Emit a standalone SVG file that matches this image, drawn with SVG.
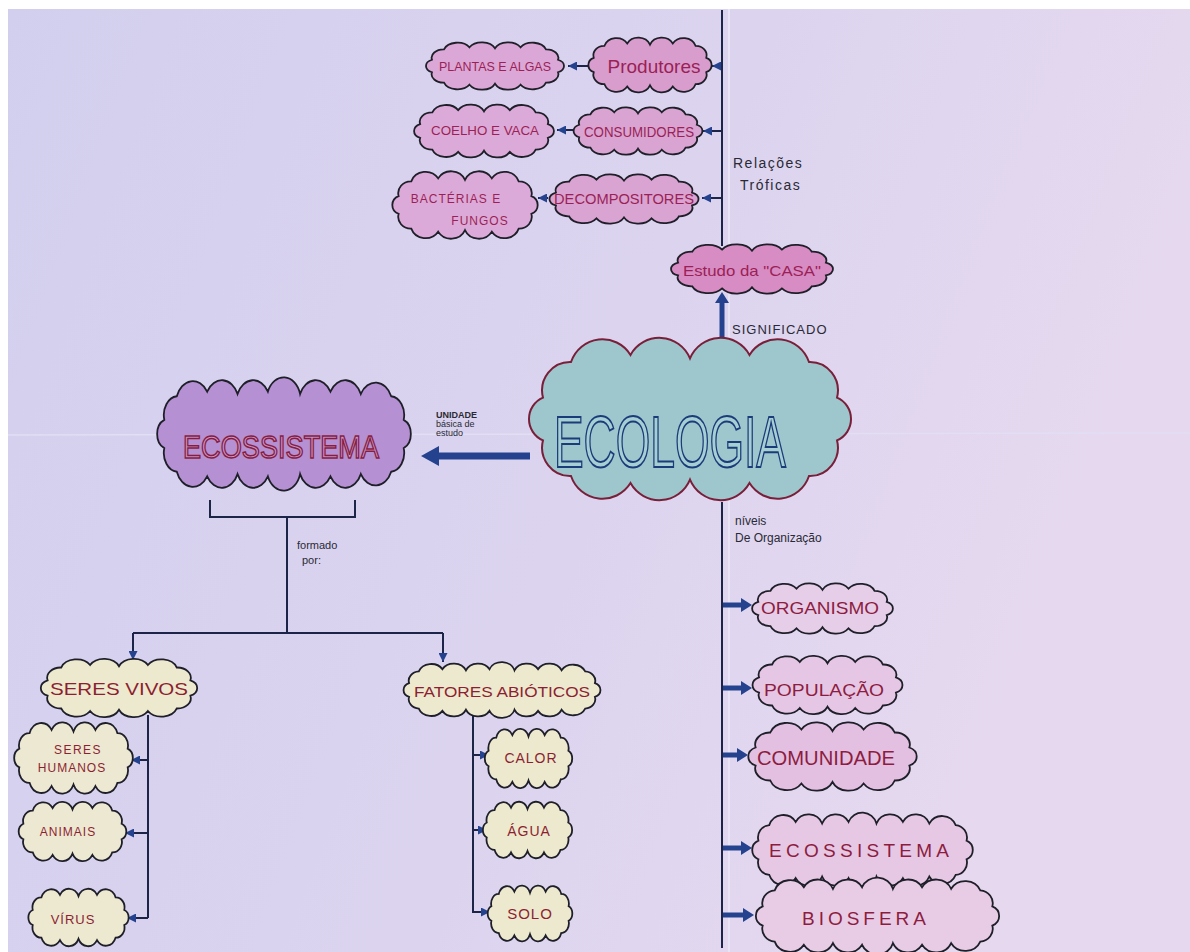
<svg xmlns="http://www.w3.org/2000/svg" xmlns:xlink="http://www.w3.org/1999/xlink" width="1190" height="952" viewBox="0 0 1190 952">
<style>
text{font-family:"Liberation Sans","DejaVu Sans",sans-serif;}
.cl{stroke:#1f1f2a;stroke-width:1.8;}
.clr{stroke:#7a1f3a;stroke-width:2;}
.tp{fill:#9c1f57;}
.tc{fill:#8c1f30;}
.tl{fill:#8d1c40;}
.lab{fill:#2a2a35;}
.ln{fill:none;stroke:#1c2448;stroke-width:2;}
.bl{fill:none;stroke:#24428e;}
</style>
<defs>
<linearGradient id="paper" x1="0" y1="0" x2="1" y2="0.3">
<stop offset="0" stop-color="#d2cfee"/>
<stop offset="0.6" stop-color="#dcd4ef"/>
<stop offset="1" stop-color="#e6d9ef"/>
</linearGradient>
<symbol id="cA" viewBox="0 0 200 100" preserveAspectRatio="none" overflow="visible">
<path vector-effect="non-scaling-stroke" d="M 16 38 A 16 16 0 0 1 32 18 A 19 19 0 0 1 66 14 A 19 19 0 0 1 100 16 A 19 19 0 0 1 134 14 A 19 19 0 0 1 168 18 A 16 16 0 0 1 184 38 A 13 13 0 0 1 184 62 A 16 16 0 0 1 168 82 A 19 19 0 0 1 134 86 A 19 19 0 0 1 100 84 A 19 19 0 0 1 66 86 A 19 19 0 0 1 32 82 A 16 16 0 0 1 16 62 A 13 13 0 0 1 16 38 Z"/>
</symbol>
<symbol id="cB" viewBox="0 0 300 100" preserveAspectRatio="none" overflow="visible">
<path vector-effect="non-scaling-stroke" d="M 16 38 A 16 16 0 0 1 30 18 A 19 19 0 0 1 64 14 A 19 19 0 0 1 98 16 A 19 19 0 0 1 132 14 A 19 19 0 0 1 168 16 A 19 19 0 0 1 202 14 A 19 19 0 0 1 236 16 A 19 19 0 0 1 270 18 A 16 16 0 0 1 284 38 A 13 13 0 0 1 284 62 A 16 16 0 0 1 270 82 A 19 19 0 0 1 236 84 A 19 19 0 0 1 202 86 A 19 19 0 0 1 168 84 A 19 19 0 0 1 132 86 A 19 19 0 0 1 98 84 A 19 19 0 0 1 64 86 A 19 19 0 0 1 30 82 A 16 16 0 0 1 16 62 A 13 13 0 0 1 16 38 Z"/>
</symbol>
<marker id="mS" markerUnits="userSpaceOnUse" markerWidth="9" markerHeight="9" refX="9" refY="4.5" orient="auto"><path d="M0,0 L9,4.5 L0,9 z" fill="#24428e"/></marker>
<marker id="mM" markerUnits="userSpaceOnUse" markerWidth="12" markerHeight="14" refX="1" refY="7" orient="auto"><path d="M0,0 L11,7 L0,14 z" fill="#24428e"/></marker>
<marker id="mL" markerUnits="userSpaceOnUse" markerWidth="19" markerHeight="20" refX="1" refY="10" orient="auto"><path d="M0,0 L18,10 L0,20 z" fill="#24428e"/></marker>
</defs>

<rect x="0" y="0" width="1190" height="952" fill="#ffffff"/>
<rect x="8" y="9" width="1182" height="943" fill="url(#paper)"/>
<line x1="729" y1="9" x2="729" y2="952" stroke="#e8e4f6" stroke-width="2"/>
<line x1="8" y1="435" x2="1190" y2="433" stroke="#e2def4" stroke-width="1.5"/>

<g id="connectors">
<path class="ln" d="M722 10 V246"/>
<path class="ln" d="M722 502 V948"/>
<path class="ln" d="M722 66 H712" marker-end="url(#mS)"/>
<path class="ln" d="M722 131 H703" marker-end="url(#mS)"/>
<path class="ln" d="M722 198 H702" marker-end="url(#mS)"/>
<path class="ln" d="M588 66 H568" marker-end="url(#mS)"/>
<path class="ln" d="M573 130 H557" marker-end="url(#mS)"/>
<path class="ln" d="M548 198 H538" marker-end="url(#mS)"/>
<path class="bl" stroke-width="5" d="M722 350 V302" marker-end="url(#mM)"/>
<path class="bl" stroke-width="7" d="M530 456 H438" marker-end="url(#mL)"/>
<path class="ln" d="M210 500 V517 H355 V500"/>
<path class="ln" d="M287 517 V633"/>
<path class="ln" d="M133 633 H443"/>
<path class="ln" d="M133 633 V660" marker-end="url(#mS)"/>
<path class="ln" d="M443 633 V662" marker-end="url(#mS)"/>
<path class="ln" d="M148 715 V918"/>
<path class="ln" d="M148 760 H131" marker-end="url(#mS)"/>
<path class="ln" d="M148 833 H125" marker-end="url(#mS)"/>
<path class="ln" d="M148 918 H127" marker-end="url(#mS)"/>
<path class="ln" d="M473 715 V912 H490" marker-end="url(#mS)"/>
<path class="ln" d="M473 755 H489" marker-end="url(#mS)"/>
<path class="ln" d="M473 830 H487" marker-end="url(#mS)"/>
<path class="bl" stroke-width="5" d="M723 605 H742" marker-end="url(#mM)"/>
<path class="bl" stroke-width="5" d="M723 688 H742" marker-end="url(#mM)"/>
<path class="bl" stroke-width="5" d="M723 755 H738" marker-end="url(#mM)"/>
<path class="bl" stroke-width="5" d="M723 848 H742" marker-end="url(#mM)"/>
<path class="bl" stroke-width="5" d="M723 915 H744" marker-end="url(#mM)"/>
</g>

<g id="labels">
<text class="lab" x="733" y="168" font-size="14" letter-spacing="1.5">Relações</text>
<text class="lab" x="740" y="190" font-size="14" letter-spacing="1.5">Tróficas</text>
<text class="lab" x="732" y="334" font-size="13" letter-spacing="1">SIGNIFICADO</text>
<text class="lab" x="436" y="418" font-size="9" font-weight="bold">UNIDADE</text>
<text class="lab" x="436" y="427" font-size="9">básica de</text>
<text class="lab" x="436" y="436" font-size="9">estudo</text>
<text class="lab" x="297" y="549" font-size="11">formado</text>
<text class="lab" x="302" y="564" font-size="11">por:</text>
<text class="lab" x="735" y="525" font-size="12">níveis</text>
<text class="lab" x="735" y="542" font-size="12">De Organização</text>
</g>

<g id="n-plantas"><use href="#cA" class="cl" x="420" y="40" width="150" height="52" fill="#dba7d6"/><text class="tp" x="495" y="71" font-size="12" text-anchor="middle" textLength="112" lengthAdjust="spacingAndGlyphs">PLANTAS E ALGAS</text></g>
<g id="n-produtores"><use href="#cA" class="cl" x="583" y="35" width="134" height="60" fill="#d89ccd"/><text class="tp" x="654" y="73" font-size="19" text-anchor="middle">Produtores</text></g>
<g id="n-coelho"><use href="#cA" class="cl" x="408" y="102" width="152" height="58" fill="#dcaad8"/><text class="tp" x="485" y="135" font-size="12" text-anchor="middle" textLength="108" lengthAdjust="spacingAndGlyphs">COELHO E VACA</text></g>
<g id="n-consumidores"><use href="#cA" class="cl" x="568" y="105" width="140" height="52" fill="#d9a3d2"/><text class="tp" x="639" y="137" font-size="14" text-anchor="middle" textLength="110" lengthAdjust="spacingAndGlyphs">CONSUMIDORES</text></g>
<g id="n-bacterias"><use href="#cA" class="cl" x="386" y="168" width="158" height="74" fill="#dcaad8"/><text class="tp" x="456" y="203" font-size="12" text-anchor="middle" letter-spacing="1">BACTÉRIAS E</text><text class="tp" x="480" y="225" font-size="12" text-anchor="middle" letter-spacing="1">FUNGOS</text></g>
<g id="n-decompositores"><use href="#cA" class="cl" x="543" y="172" width="162" height="54" fill="#d9a3d2"/><text class="tp" x="624" y="204" font-size="14" text-anchor="middle" textLength="140" lengthAdjust="spacingAndGlyphs">DECOMPOSITORES</text></g>
<g id="n-estudo"><use href="#cA" class="cl" x="664" y="242" width="176" height="54" fill="#d88cc4"/><text class="tp" x="752" y="276" font-size="15" text-anchor="middle" textLength="138" lengthAdjust="spacingAndGlyphs">Estudo da "CASA"</text></g>
<g id="n-ecologia"><use href="#cA" class="clr" x="515" y="330" width="350" height="178" fill="#9ec7cd"/><text x="670" y="467" font-size="72" text-anchor="middle" textLength="232" lengthAdjust="spacingAndGlyphs" fill="#a6cfd3" stroke="#1b3c7a" stroke-width="2">ECOLOGIA</text></g>
<g id="n-ecossistema"><use href="#cB" class="cl" x="150" y="375" width="268" height="118" fill="#b590d2"/><text x="281" y="458" font-size="32" text-anchor="middle" textLength="196" lengthAdjust="spacingAndGlyphs" fill="#c49ad6" stroke="#8a1d3e" stroke-width="1.5">ECOSSISTEMA</text></g>
<g id="n-seresvivos"><use href="#cA" class="cl" x="34" y="656" width="170" height="64" fill="#ede9cf"/><text class="tc" x="119" y="695" font-size="17" text-anchor="middle" textLength="138" lengthAdjust="spacingAndGlyphs">SERES VIVOS</text></g>
<g id="n-fatores"><use href="#cB" class="cl" x="398" y="661" width="208" height="58" fill="#ede9cf"/><text class="tc" x="502" y="697" font-size="15" text-anchor="middle" textLength="176" lengthAdjust="spacingAndGlyphs">FATORES ABIÓTICOS</text></g>
<g id="n-humanos"><use href="#cA" class="cl" x="9" y="719" width="129" height="78" fill="#ece8d2"/><text class="tc" x="78" y="754" font-size="12" text-anchor="middle" letter-spacing="1.5">SERES</text><text class="tc" x="72" y="772" font-size="12" text-anchor="middle" letter-spacing="1">HUMANOS</text></g>
<g id="n-animais"><use href="#cA" class="cl" x="14" y="799" width="117" height="65" fill="#ece8d2"/><text class="tc" x="68" y="836" font-size="12" text-anchor="middle" letter-spacing="1">ANIMAIS</text></g>
<g id="n-virus"><use href="#cA" class="cl" x="24" y="886" width="109" height="63" fill="#ece9d0"/><text class="tc" x="73" y="924" font-size="13" text-anchor="middle" letter-spacing="1">VÍRUS</text></g>
<g id="n-calor"><use href="#cA" class="cl" x="481" y="726" width="95" height="65" fill="#ede9cf"/><text class="tc" x="531" y="763" font-size="14" text-anchor="middle" letter-spacing="1">CALOR</text></g>
<g id="n-agua"><use href="#cA" class="cl" x="479" y="799" width="97" height="62" fill="#ede9cf"/><text class="tc" x="529" y="836" font-size="14" text-anchor="middle" letter-spacing="1">ÁGUA</text></g>
<g id="n-solo"><use href="#cA" class="cl" x="484" y="883" width="92" height="61" fill="#ede9cf"/><text class="tc" x="530" y="919" font-size="15" text-anchor="middle" letter-spacing="1">SOLO</text></g>
<g id="n-organismo"><use href="#cA" class="cl" x="746" y="581" width="153" height="55" fill="#e6cde8"/><text class="tl" x="820" y="614" font-size="17" text-anchor="middle" textLength="118" lengthAdjust="spacingAndGlyphs">ORGANISMO</text></g>
<g id="n-populacao"><use href="#cA" class="cl" x="746" y="653" width="163" height="64" fill="#e6c6e5"/><text class="tl" x="824" y="696" font-size="16" text-anchor="middle" textLength="120" lengthAdjust="spacingAndGlyphs">POPULAÇÃO</text></g>
<g id="n-comunidade"><use href="#cA" class="cl" x="741" y="719" width="183" height="75" fill="#e3c0e1"/><text class="tl" x="826" y="765" font-size="20" text-anchor="middle" textLength="138" lengthAdjust="spacingAndGlyphs">COMUNIDADE</text></g>
<g id="n-ecossistema2"><use href="#cB" class="cl" x="746" y="811" width="233" height="78" fill="#e6c8e5"/><text class="tl" x="859" y="857" font-size="19" text-anchor="middle" textLength="180" lengthAdjust="spacing">ECOSSISTEMA</text></g>
<g id="n-biosfera"><use href="#cB" class="cl" x="749" y="876" width="257" height="80" fill="#e8cce6"/><text class="tl" x="864" y="925" font-size="19" text-anchor="middle" textLength="124" lengthAdjust="spacing">BIOSFERA</text></g>
</svg>
